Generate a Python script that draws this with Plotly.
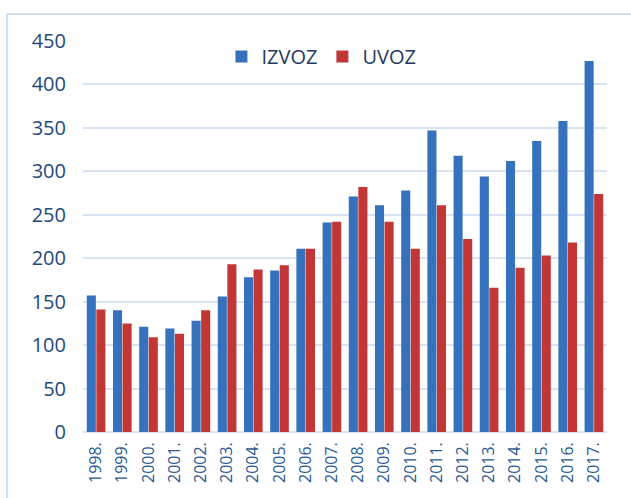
import plotly.graph_objects as go

years = ["1998.", "1999.", "2000.", "2001.", "2002.", "2003.", "2004.",
         "2005.", "2006.", "2007.", "2008.", "2009.", "2010.", "2011.",
         "2012.", "2013.", "2014.", "2015.", "2016.", "2017."]

izvoz = [157, 140, 121, 119, 128, 156, 178, 186, 211, 241,
         271, 261, 278, 347, 318, 294, 312, 335, 358, 427]

uvoz = [141, 125, 109, 113, 140, 193, 187, 192, 211, 242,
        282, 242, 211, 261, 222, 166, 189, 203, 218, 274]

y_ticks = [0, 50, 100, 150, 200, 250, 300, 350, 400, 450]


fig = go.Figure()

fig.add_trace(
    go.Bar(
        x=years,
        y=izvoz,
        name="IZVOZ",
        marker=dict(color="#3571bc", line=dict(width=0))
    )
)

fig.add_trace(
    go.Bar(
        x=years,
        y=uvoz,
        name="UVOZ",
        marker=dict(color="#c23735", line=dict(width=0))
    )
)

fig.update_layout(
    width=631,
    height=498,
    margin=dict(l=83, r=24, t=41, b=66),
    paper_bgcolor="white",
    plot_bgcolor="white",
    barmode="group",
    bargap=0.27,
    bargroupgap=0.05,
    font=dict(family="Open Sans, Liberation Sans, sans-serif", color="#1f497d"),
    legend=dict(
        orientation="h",
        x=0.455,
        y=1.01,
        xanchor="center",
        yanchor="top",
        font=dict(size=20, color="#243a5e"),
        bgcolor="rgba(0,0,0,0)",
        itemwidth=30
    ),
    shapes=[
        dict(
            type="rect",
            xref="paper", yref="paper",
            x0=-0.145, x1=1.2,
            y0=-0.5, y1=1.069,
            line=dict(color="#d3e1f2", width=2),
            layer="below"
        )
    ]
)

fig.update_yaxes(
    range=[0, 450],
    tickvals=y_ticks,
    showgrid=True,
    gridcolor="#d8e4f3",
    gridwidth=2,
    zeroline=True,
    zerolinecolor="#d8e4f3",
    zerolinewidth=2,
    tickfont=dict(size=20, color="#1f497d"),
    ticklabelstandoff=16
)

fig.update_xaxes(
    tickangle=-90,
    tickfont=dict(size=16, color="#2b5a92"),
    showline=False,
    ticklabelstandoff=6
)

# the page has a default body margin, drop it so the figure sits at 0,0
fig.write_html(
    "out.html",
    config={"displayModeBar": False},
    post_script="document.body.style.margin='0';"
)
